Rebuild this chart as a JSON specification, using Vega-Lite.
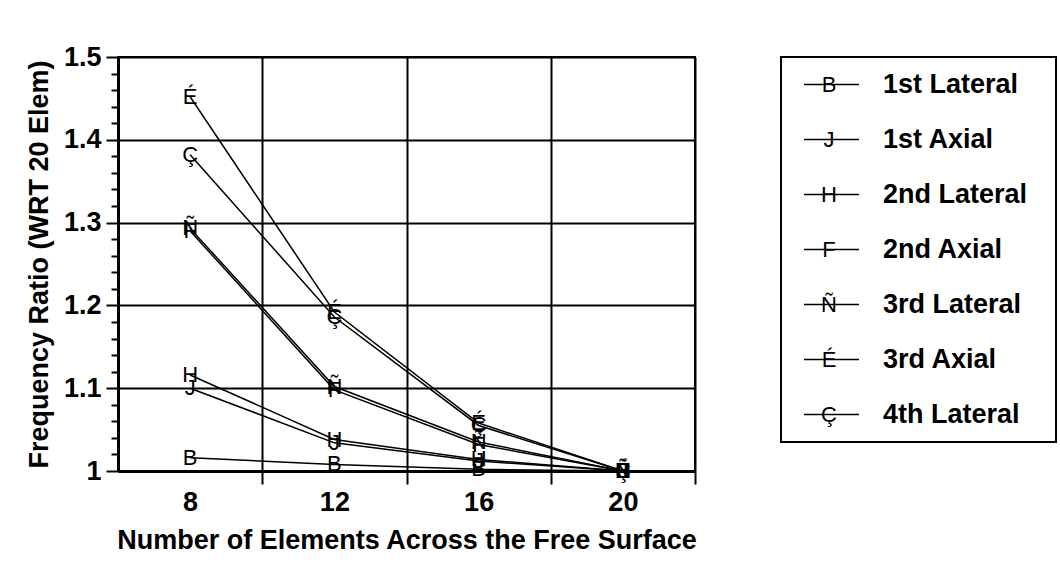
{
  "$schema": "https://vega.github.io/schema/vega-lite/v6.json",
  "background": "white",
  "padding": {"left": 24, "top": 42, "right": 5, "bottom": 5},
  "config": {
    "font": "Liberation Sans",
    "view": {"stroke": "black", "strokeWidth": 2},
    "axis": {"labelFont": "Liberation Sans", "titleFont": "Liberation Sans", "labelColor": "black", "titleColor": "black", "domainColor": "black", "tickColor": "black", "gridColor": "black", "gridOpacity": 1}
  },
  "datasets": {
    "freq": [
      {"series": "1st Lateral", "sym": "B", "n": 8, "ratio": 1.016},
      {"series": "1st Lateral", "sym": "B", "n": 12, "ratio": 1.008},
      {"series": "1st Lateral", "sym": "B", "n": 16, "ratio": 1.002},
      {"series": "1st Lateral", "sym": "B", "n": 20, "ratio": 1.0},
      {"series": "1st Axial", "sym": "J", "n": 8, "ratio": 1.1},
      {"series": "1st Axial", "sym": "J", "n": 12, "ratio": 1.034},
      {"series": "1st Axial", "sym": "J", "n": 16, "ratio": 1.012},
      {"series": "1st Axial", "sym": "J", "n": 20, "ratio": 1.0},
      {"series": "2nd Lateral", "sym": "H", "n": 8, "ratio": 1.116},
      {"series": "2nd Lateral", "sym": "H", "n": 12, "ratio": 1.038},
      {"series": "2nd Lateral", "sym": "H", "n": 16, "ratio": 1.014},
      {"series": "2nd Lateral", "sym": "H", "n": 20, "ratio": 1.0},
      {"series": "2nd Axial", "sym": "F", "n": 8, "ratio": 1.29},
      {"series": "2nd Axial", "sym": "F", "n": 12, "ratio": 1.098},
      {"series": "2nd Axial", "sym": "F", "n": 16, "ratio": 1.032},
      {"series": "2nd Axial", "sym": "F", "n": 20, "ratio": 1.0},
      {"series": "3rd Lateral", "sym": "Ñ", "n": 8, "ratio": 1.293},
      {"series": "3rd Lateral", "sym": "Ñ", "n": 12, "ratio": 1.102},
      {"series": "3rd Lateral", "sym": "Ñ", "n": 16, "ratio": 1.035},
      {"series": "3rd Lateral", "sym": "Ñ", "n": 20, "ratio": 1.0},
      {"series": "3rd Axial", "sym": "É", "n": 8, "ratio": 1.452},
      {"series": "3rd Axial", "sym": "É", "n": 12, "ratio": 1.192},
      {"series": "3rd Axial", "sym": "É", "n": 16, "ratio": 1.058},
      {"series": "3rd Axial", "sym": "É", "n": 20, "ratio": 1.0},
      {"series": "4th Lateral", "sym": "Ç", "n": 8, "ratio": 1.382},
      {"series": "4th Lateral", "sym": "Ç", "n": 12, "ratio": 1.186},
      {"series": "4th Lateral", "sym": "Ç", "n": 16, "ratio": 1.055},
      {"series": "4th Lateral", "sym": "Ç", "n": 20, "ratio": 1.0}
    ],
    "legendRows": [
      {"label": "1st Lateral", "sym": "B"},
      {"label": "1st Axial", "sym": "J"},
      {"label": "2nd Lateral", "sym": "H"},
      {"label": "2nd Axial", "sym": "F"},
      {"label": "3rd Lateral", "sym": "Ñ"},
      {"label": "3rd Axial", "sym": "É"},
      {"label": "4th Lateral", "sym": "Ç"}
    ]
  },
  "spacing": 82,
  "hconcat": [
    {
      "width": 577,
      "height": 414,
      "data": {"name": "freq"},
      "resolve": {"axis": {"x": "independent", "y": "independent"}},
      "layer": [
        {
          "mark": {"type": "line", "color": "black", "strokeWidth": 1.5},
          "encoding": {
            "x": {"field": "n", "type": "quantitative", "scale": {"domain": [6, 22], "nice": false},
              "axis": {"orient": "bottom", "values": [8, 12, 16, 20], "ticks": false, "grid": false, "domain": true, "domainWidth": 3,
                "labelFontSize": 27, "labelFontWeight": "bold", "labelPadding": 18,
                "title": "Number of Elements Across the Free Surface", "titleFontSize": 27, "titleFontWeight": "bold", "titlePadding": 12}},
            "y": {"field": "ratio", "type": "quantitative", "scale": {"domain": [1, 1.5], "nice": false, "zero": false},
              "axis": {"orient": "left", "values": [1, 1.1, 1.2, 1.3, 1.4, 1.5], "format": "~g", "grid": true, "gridWidth": 2, "tickSize": 12, "tickWidth": 2,
                "domain": true, "domainWidth": 3, "labelFontSize": 27, "labelFontWeight": "bold", "labelPadding": 5,
                "title": "Frequency Ratio (WRT 20 Elem)", "titleFontSize": 27, "titleFontWeight": "bold", "titlePadding": 10}},
            "detail": {"field": "series", "type": "nominal"}
          }
        },
        {
          "mark": {"type": "text", "color": "black", "font": "Liberation Sans", "fontSize": 22, "align": "center", "baseline": "middle"},
          "encoding": {
            "x": {"field": "n", "type": "quantitative",
              "axis": {"orient": "bottom", "values": [10, 14, 18, 22], "labels": false, "domain": false, "grid": true, "gridWidth": 2, "tickSize": 13, "tickWidth": 2, "title": null}},
            "y": {"field": "ratio", "type": "quantitative",
              "axis": {"orient": "left", "values": [1.02, 1.04, 1.06, 1.08, 1.12, 1.14, 1.16, 1.18, 1.22, 1.24, 1.26, 1.28, 1.32, 1.34, 1.36, 1.38, 1.42, 1.44, 1.46, 1.48], "labels": false, "domain": false, "grid": false, "tickSize": 7, "tickWidth": 2, "title": null}},
            "text": {"field": "sym", "type": "nominal"}
          }
        }
      ]
    },
    {
      "width": 275,
      "height": 385,
      "data": {"name": "legendRows"},
      "layer": [
        {
          "mark": {"type": "rule", "color": "black", "strokeWidth": 1.5},
          "encoding": {
            "x": {"datum": 23, "type": "quantitative", "scale": {"domain": [0, 275], "nice": false}, "axis": null},
            "x2": {"datum": 78},
            "y": {"field": "label", "type": "nominal", "sort": ["1st Lateral", "1st Axial", "2nd Lateral", "2nd Axial", "3rd Lateral", "3rd Axial", "4th Lateral"], "scale": {"type": "point", "padding": 0.5}, "axis": null}
          }
        },
        {
          "mark": {"type": "text", "color": "black", "font": "Liberation Sans", "fontSize": 22, "align": "center", "baseline": "middle"},
          "encoding": {
            "x": {"datum": 48, "type": "quantitative"},
            "y": {"field": "label", "type": "nominal", "sort": ["1st Lateral", "1st Axial", "2nd Lateral", "2nd Axial", "3rd Lateral", "3rd Axial", "4th Lateral"]},
            "text": {"field": "sym", "type": "nominal"}
          }
        },
        {
          "mark": {"type": "text", "color": "black", "font": "Liberation Sans", "fontSize": 27, "fontWeight": "bold", "align": "left", "baseline": "middle"},
          "encoding": {
            "x": {"datum": 102, "type": "quantitative"},
            "y": {"field": "label", "type": "nominal", "sort": ["1st Lateral", "1st Axial", "2nd Lateral", "2nd Axial", "3rd Lateral", "3rd Axial", "4th Lateral"]},
            "text": {"field": "label", "type": "nominal"}
          }
        }
      ]
    }
  ]
}
